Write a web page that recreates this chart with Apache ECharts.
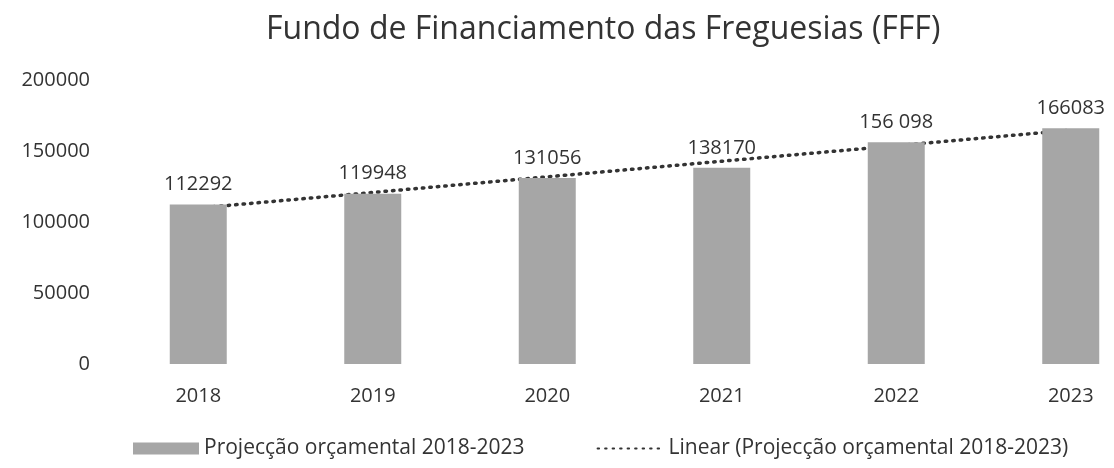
<!DOCTYPE html>
<html>
<head>
    <meta charset="utf-8">
    <title>FFF</title>
    <script src="https://cdn.jsdelivr.net/npm/echarts@6/dist/echarts.min.js"></script>
    <style>
        html, body { margin: 0; padding: 0; background: #fff; }
        #fff { width: 1114px; height: 468px; }
    </style>
</head>
<body>
    <div id="fff"></div>
    <script type="text/javascript">
        // dados
        var anos = ['2018', '2019', '2020', '2021', '2022', '2023'];
        var projeccao = [112292, 119948, 131056, 138170, 156098, 166083];
        var rotulos = ['112292', '119948', '131056', '138170', '156 098', '166083'];
        var tendencia = [109800, 120800, 131800, 142800, 153700, 164700];
        var yTicks = [0, 50000, 100000, 150000, 200000];

        var nomeBarra = 'Projecção orçamental 2018-2023';
        var nomeLinha = 'Linear (Projecção orçamental 2018-2023)';
        var fonte = '"Open Sans", "DejaVu Sans", sans-serif';

        var myChart = echarts.init(document.getElementById('fff'));
        var option = {
            backgroundColor: '#ffffff',
            animation: false,
            title: {
                text: 'Fundo de Financiamento das Freguesias (FFF)',
                left: 261,
                top: 9,
                textStyle: { fontFamily: fonte, fontSize: 32, fontWeight: 'normal', color: '#333333' }
            },
            legend: {
                left: 128,
                top: 433,
                itemGap: 72,
                itemWidth: 66,
                itemHeight: 12,
                textStyle: { fontFamily: fonte, fontSize: 21, color: '#333333' },
                data: [
                    { name: nomeBarra, icon: 'rect' },
                    // esconde o círculo que o ECharts põe no meio da linha
                    { name: nomeLinha, itemStyle: { color: 'rgba(0,0,0,0)', borderWidth: 0 } }
                ]
            },
            grid: {
                left: 111,
                top: 80,
                width: 1047,
                height: 284,
                outerBoundsMode: 'none'
            },
            xAxis: {
                type: 'category',
                data: anos,
                axisLine: { show: false },
                axisTick: { show: false },
                axisLabel: { fontFamily: fonte, fontSize: 20, color: '#333333', margin: 22 }
            },
            yAxis: {
                type: 'value',
                min: yTicks[0],
                max: yTicks[yTicks.length - 1],
                interval: 50000,
                axisLine: { show: false },
                axisTick: { show: false },
                splitLine: { show: false },
                axisLabel: {
                    fontFamily: fonte, fontSize: 20, color: '#333333', margin: 21,
                    formatter: function (v) { return String(v); }
                }
            },
            series: [
                {
                    name: nomeLinha,
                    type: 'line',
                    data: tendencia,
                    z: 1,
                    symbol: 'none',
                    silent: true,
                    lineStyle: { color: '#333333', width: 3.5, type: [1.5, 6], cap: 'round' },
                    itemStyle: { color: '#333333' }
                },
                {
                    name: nomeBarra,
                    type: 'bar',
                    data: projeccao,
                    z: 3,
                    barWidth: 57,
                    itemStyle: { color: '#a6a6a6' },
                    label: {
                        show: true,
                        position: 'top',
                        distance: 10,
                        fontFamily: fonte,
                        fontSize: 20,
                        color: '#333333',
                        formatter: function (p) { return rotulos[p.dataIndex]; }
                    }
                }
            ]
        };
        myChart.setOption(option);
    </script>
</body>
</html>
